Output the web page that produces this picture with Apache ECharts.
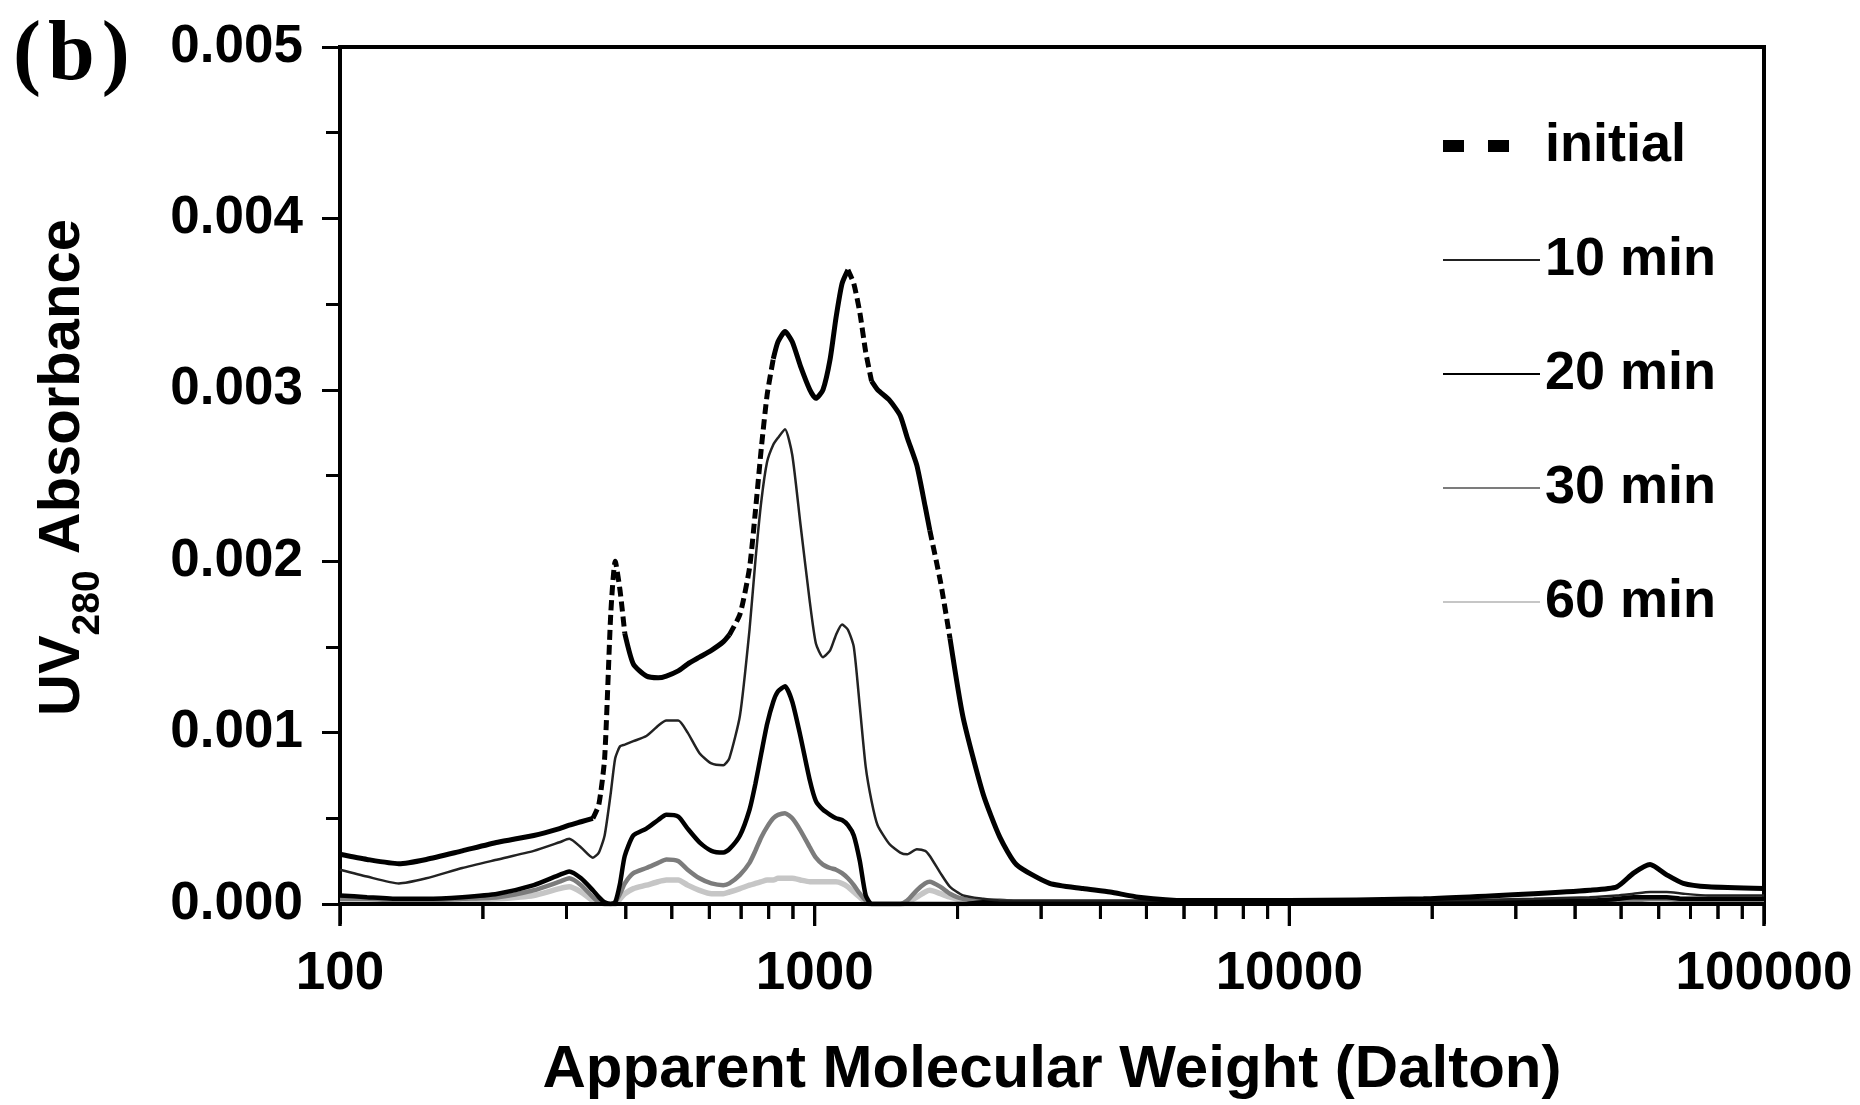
<!DOCTYPE html>
<html>
<head>
<meta charset="utf-8">
<script src="https://cdn.jsdelivr.net/npm/echarts@6/dist/echarts.min.js"></script>
<style>
html,body{margin:0;padding:0;background:#fff;}
#chart{width:1860px;height:1105px;}
</style>
</head>
<body>
<div id="chart"></div>
<script>
// Apparent molecular weight (Dalton) sample points
const mw = [100,114,133,152,181,215,256,290,304,322,341,351,361,372,380,389,398,415,442,468,487,516,540,572,606,642,661,696,729,750,772,794,818,837,866,897,933,977,1006,1041,1078,1109,1142,1175,1209,1245,1281,1318,1357,1437,1514,1567,1641,1709,1748,1841,1928,2054,2265,2455,2661,3126,3673,4193,4815,6061,10000,19170,32734,42900,48978,53088,57544,62373,67608,76295,100000];

// UV280 absorbance values
const initial = [0.00029,0.00026,0.000235,0.00026,0.00031,0.00036,0.00040,0.00044,0.00046,0.00048,0.00050,0.00058,0.00085,0.0017,0.0020,0.00183,0.00158,0.00140,0.00133,0.00132,0.00133,0.00136,0.00140,0.00144,0.00148,0.00153,0.00157,0.00169,0.00196,0.00229,0.00266,0.00297,0.00318,0.00328,0.00334,0.00328,0.00314,0.00300,0.00295,0.00300,0.00318,0.00342,0.00362,0.00370,0.00362,0.00345,0.00322,0.00305,0.00300,0.00294,0.00285,0.00272,0.00256,0.00232,0.00218,0.00188,0.00155,0.00109,0.00064,0.00039,0.00023,0.00012,0.00009,0.00007,0.00004,0.00002,0.00002,0.00003,0.00006,0.00008,0.00010,0.00018,0.00023,0.00017,0.00012,0.00010,0.00009];
const min10 = [0.00020,0.00016,0.00012,0.00015,0.00021,0.00026,0.00031,0.00036,0.00038,0.00033,0.00027,0.00030,0.00040,0.00065,0.00085,0.00092,0.00093,0.00095,0.00098,0.00104,0.00107,0.00107,0.00100,0.00088,0.00082,0.00081,0.00085,0.00110,0.00160,0.00200,0.00235,0.00258,0.00268,0.00272,0.00277,0.00262,0.00222,0.00176,0.00152,0.00144,0.00148,0.00157,0.00163,0.00160,0.00150,0.00115,0.00080,0.00060,0.00046,0.00035,0.00030,0.00029,0.00032,0.00031,0.00028,0.00018,0.00010,0.00005,0.00003,0.00002,0.00002,0.00002,0.00002,0.00002,0.00002,0.00002,0.00002,0.00002,0.00003,0.00004,0.00005,0.00006,0.00007,0.00007,0.00006,0.00005,0.00005];
const min20 = [0.00005,0.00004,0.00003,0.00003,0.00004,0.00006,0.00011,0.00017,0.00019,0.00015,0.00008,0.00004,0.00001,0,0.00001,0.00012,0.00028,0.00040,0.00044,0.00049,0.00052,0.00051,0.00044,0.00036,0.00031,0.00030,0.00032,0.00040,0.00055,0.00070,0.00088,0.00105,0.00118,0.00124,0.00127,0.00118,0.00098,0.00072,0.00060,0.00055,0.00052,0.00050,0.00049,0.00046,0.00040,0.00025,0.00005,0,0,0,0,0,0,0,0,0,0,0,0.00001,0.00001,0.00001,0.00001,0.00001,0.00001,0.00001,0.00001,0.00001,0.00001,0.00002,0.00002,0.00003,0.00004,0.00004,0.00004,0.00003,0.00003,0.00003];
const min30 = [0.00003,0.00003,0.00002,0.00002,0.00003,0.00004,0.00008,0.00013,0.00015,0.00011,0.00004,0.00001,0,0,0.00001,0.00006,0.00012,0.00018,0.00021,0.00024,0.00026,0.00025,0.00020,0.00015,0.00012,0.00011,0.00012,0.00017,0.00024,0.00031,0.00039,0.00045,0.00050,0.00052,0.00053,0.00050,0.00043,0.00033,0.00027,0.00023,0.00021,0.00020,0.00018,0.00015,0.00011,0.00006,0.00002,0,0,0,0,0.00002,0.00008,0.00012,0.00013,0.00010,0.00006,0.00003,0.00002,0.00002,0.00001,0.00001,0.00001,0.00001,0.00001,0.00001,0.00001,0.00001,0.00001,0.00002,0.00002,0.00002,0.00003,0.00003,0.00002,0.00002,0.00002];
const min60 = [0.00002,0.00002,0.00001,0.00001,0.00002,0.00003,0.00005,0.00009,0.00010,0.00007,0.00002,0.00001,0,0,0,0.00003,0.00006,0.00009,0.00011,0.00013,0.00014,0.00014,0.00011,0.00008,0.00006,0.00006,0.00007,0.00009,0.00011,0.00012,0.00013,0.00014,0.00014,0.00015,0.00015,0.00015,0.00014,0.00013,0.00013,0.00013,0.00013,0.00013,0.00012,0.00010,0.00007,0.00004,0.00001,0,0,0,0,0.00001,0.00004,0.00007,0.00008,0.00006,0.00004,0.00002,0.00001,0.00001,0.00001,0.00001,0.00001,0.00001,0.00001,0.00001,0.00001,0.00001,0.00001,0.00001,0.00001,0.00001,0.00002,0.00002,0.00002,0.00002,0.00002];

const seriesNames = ['initial', '10 min', '20 min', '30 min', '60 min'];
const xMajorTicks = [100, 1000, 10000, 100000];
const xMinorTicks = [200,300,400,500,600,700,800,900,2000,3000,4000,5000,6000,7000,8000,9000,20000,30000,40000,50000,60000,70000,80000,90000];
// MW ranges where the "initial" trace is drawn broken (steep flanks)
const initialDashedSpans = [[341, 398], [661, 818], [1175, 1318], [1748, 1928]];

const FONT = '"Liberation Sans", Arial, sans-serif';

const pairs = vals => mw.map((m, i) => [m, vals[i]]);
const inSpan = m => initialDashedSpans.some(([a, b]) => m >= a && m <= b);
const inSpanOpen = m => initialDashedSpans.some(([a, b]) => m > a && m < b);
const initSolid = mw.map((m, i) => [m, inSpanOpen(m) ? null : initial[i]]);
const initDash = mw.map((m, i) => [m, inSpan(m) ? initial[i] : null]);
const tickDefs = xMajorTicks.map(v => [v, 0, 20]).concat(xMinorTicks.map(v => [v, 0, 13]));

const chart = echarts.init(document.getElementById('chart'), null, {renderer: 'canvas'});

const lineSeries = (name, data, color, width, z, type) => ({
  name, type: 'line', data, symbol: 'none', smooth: 0.2, z,
  lineStyle: {color, width, type: type || 'solid', cap: 'butt'},
  itemStyle: {color},
  emphasis: {disabled: true},
  animation: false
});

const tickStyle = {color: '#000', width: 3};

chart.setOption({
  backgroundColor: '#fff',
  animation: false,
  title: {
    text: '(\u200ab\u200a)', left: 8, top: 10,
    textStyle: {fontFamily: '"Liberation Serif", "Times New Roman", serif', fontSize: 84, fontWeight: 'bold', color: '#000'}
  },
  grid: {left: 340, right: 96, top: 47, bottom: 198, show: true, borderColor: '#000', borderWidth: 4, backgroundColor: 'transparent'},
  legend: {
    orient: 'vertical', left: 1432, top: 111, itemWidth: 97, itemHeight: 14, itemGap: 54,
    itemStyle: {opacity: 0, borderWidth: 0},
    textStyle: {fontFamily: FONT, fontSize: 54, fontWeight: 'bold', color: '#000', lineHeight: 60},
    selectedMode: false,
    data: [
      {name: seriesNames[0], lineStyle: {type: [21, 24, 21, 200], width: 12, color: '#000'}},
      {name: seriesNames[1]}, {name: seriesNames[2]}, {name: seriesNames[3]}, {name: seriesNames[4]}
    ]
  },
  xAxis: {
    type: 'log', logBase: 10, min: xMajorTicks[0], max: xMajorTicks[xMajorTicks.length - 1], position: 'bottom',
    zlevel: 1, z: 50,
    name: 'Apparent Molecular Weight (Dalton)', nameLocation: 'middle', nameGap: 136,
    nameTextStyle: {fontFamily: FONT, fontSize: 60, fontWeight: 'bold', color: '#000'},
    axisLine: {show: true, onZero: false, lineStyle: {color: '#000', width: 4}},
    axisTick: {show: true, inside: false, length: 20, lineStyle: tickStyle},
    axisLabel: {show: true, margin: 44, fontFamily: FONT, fontSize: 53, fontWeight: 'bold', color: '#000',
      formatter: v => String(Math.round(v))},
    splitLine: {show: false}
  },
  yAxis: {
    type: 'value', min: 0, max: 0.005, interval: 0.001,
    name: '{a|UV}{s|280}{a| Absorbance}', nameLocation: 'middle', nameGap: 232,
    nameTextStyle: {
      padding: [0, 0, 0, 16],
      rich: {
        a: {fontFamily: FONT, fontSize: 58, fontWeight: 'bold', color: '#000', lineHeight: 74, verticalAlign: 'top'},
        s: {fontFamily: FONT, fontSize: 39, fontWeight: 'bold', color: '#000', lineHeight: 39, verticalAlign: 'bottom'}
      }
    },
    axisLine: {show: true, onZero: false, lineStyle: {color: '#000', width: 4}},
    axisTick: {show: true, length: 18, lineStyle: tickStyle},
    minorTick: {show: true, splitNumber: 2, length: 14, lineStyle: tickStyle},
    axisLabel: {margin: 37, fontFamily: FONT, fontSize: 53, fontWeight: 'bold', color: '#000', formatter: v => v.toFixed(3)},
    splitLine: {show: false}, minorSplitLine: {show: false}
  },
  series: [
    lineSeries(seriesNames[4], pairs(min60), '#c6c6c6', 5.5, 2),
    lineSeries(seriesNames[3], pairs(min30), '#7c7c7c', 4.5, 3),
    lineSeries(seriesNames[2], pairs(min20), '#000', 4.5, 4),
    lineSeries(seriesNames[1], pairs(min10), '#222', 2.5, 5),
    lineSeries(seriesNames[0], initSolid, '#000', 5, 6),
    lineSeries(seriesNames[0], initDash, '#000', 5, 6, [10, 5]),
    {
      // x-axis tick marks hanging below the axis line, placed through the log axis
      type: 'custom', name: 'xticks', data: tickDefs, clip: false, silent: true, z: 20, zlevel: 1,
      encode: {x: 0, y: 1}, animation: false, tooltip: {show: false},
      renderItem: (params, api) => {
        const p = api.coord([api.value(0), 0]);
        const len = api.value(2);
        return {type: 'line', shape: {x1: p[0], y1: p[1], x2: p[0], y2: p[1] + 2 + len},
          style: {stroke: '#000', lineWidth: 3}};
      }
    }
  ]
});

// same tick marks as graphic lines (grid finder), in case the custom series is clipped
try {
  chart.setOption({
    graphic: tickDefs.map(t => {
      const p = chart.convertToPixel({gridIndex: 0}, [t[0], t[1]]);
      return {type: 'line', silent: true, z: 100, zlevel: 2,
        shape: {x1: p[0], y1: p[1], x2: p[0], y2: p[1] + 2 + t[2]},
        style: {stroke: '#000', lineWidth: 3}};
    })
  });
} catch (e) { console.error(e); }
</script>
</body>
</html>
